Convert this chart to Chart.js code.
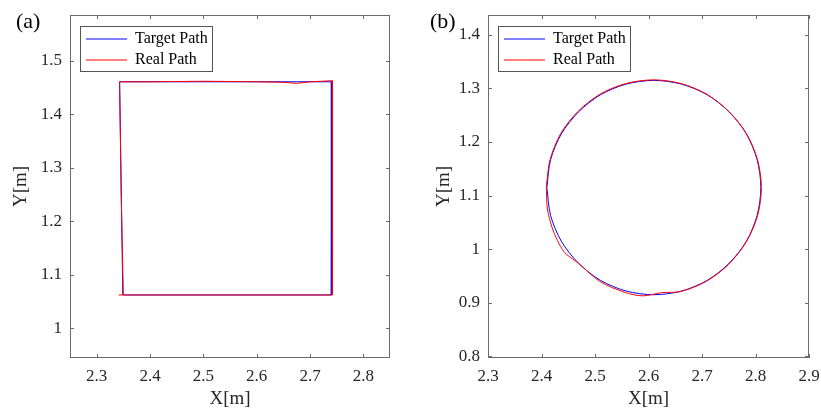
<!DOCTYPE html>
<html>
<head>
<meta charset="utf-8">
<script src="https://cdn.jsdelivr.net/npm/chart.js@4.4.0/dist/chart.umd.min.js"></script>
<style>
  html, body { margin: 0; padding: 0; background: #fff; }
  #wrap { position: relative; width: 821px; height: 409px; }
  .panel { position: absolute; top: 0; height: 409px; }
  #panelA { left: 0; width: 410px; }
  #panelB { left: 410px; width: 411px; }
</style>
</head>
<body>
<div id="wrap">
  <div class="panel" id="panelA"><canvas id="squareChart"></canvas></div>
  <div class="panel" id="panelB"><canvas id="circleChart"></canvas></div>
</div>
<script>
// (a) square path
var xTicksA = [2.3, 2.4, 2.5, 2.6, 2.7, 2.8];
var yTicksA = [1, 1.1, 1.2, 1.3, 1.4, 1.5];
var targetSquareX = [2.349, 2.343, 2.741, 2.740, 2.349];
var targetSquareY = [1.062, 1.461, 1.461, 1.062, 1.062];
var realSquareX = [2.350, 2.346, 2.343, 2.400, 2.500, 2.600, 2.650, 2.675, 2.700, 2.742, 2.742, 2.742, 2.600, 2.450, 2.341];
var realSquareY = [1.062, 1.250, 1.461, 1.461, 1.462, 1.461, 1.460, 1.458, 1.461, 1.463, 1.300, 1.062, 1.062, 1.062, 1.062];

// (b) circle path
var xTicksB = [2.3, 2.4, 2.5, 2.6, 2.7, 2.8, 2.9];
var yTicksB = [0.8, 0.9, 1, 1.1, 1.2, 1.3, 1.4];
var targetCircleX = [2.410, 2.417, 2.437, 2.469, 2.510, 2.558, 2.610, 2.662, 2.710, 2.751, 2.783, 2.803, 2.810, 2.803, 2.783, 2.751, 2.710, 2.662, 2.610, 2.558, 2.510, 2.469, 2.437, 2.417, 2.410];
var targetCircleY = [1.115, 1.063, 1.015, 0.974, 0.942, 0.922, 0.915, 0.922, 0.942, 0.974, 1.015, 1.063, 1.115, 1.167, 1.215, 1.256, 1.288, 1.308, 1.315, 1.308, 1.288, 1.256, 1.215, 1.167, 1.115];
var realCircleX = [2.409, 2.411, 2.420, 2.430, 2.443, 2.458, 2.470, 2.509, 2.557, 2.590, 2.625, 2.660, 2.708, 2.750, 2.783, 2.804, 2.811, 2.804, 2.783, 2.750, 2.709, 2.661, 2.610, 2.557, 2.509, 2.468, 2.436, 2.416, 2.409];
var realCircleY = [1.118, 1.075, 1.040, 1.016, 0.994, 0.982, 0.973, 0.940, 0.919, 0.913, 0.919, 0.921, 0.940, 0.972, 1.014, 1.063, 1.115, 1.166, 1.216, 1.257, 1.289, 1.309, 1.316, 1.309, 1.289, 1.257, 1.216, 1.167, 1.118];

var serif = '"Liberation Serif", "Times New Roman", serif';
var textColor = '#262626';
var boxColor = '#6b6b6b';

function toPoints(xs, ys) {
    return xs.map(function(x, i) { return {x: x, y: ys[i]}; });
}

// box round the axes, inward ticks, legend frame and the panel tag
var framePlugin = {
    id: 'frame',
    afterLayout: function(chart) {
        var lg = chart.legend, ca = chart.chartArea;
        var w = lg.right - lg.left, h = lg.bottom - lg.top;
        lg.left = ca.left + 11;
        lg.top = ca.top + 11;
        lg.right = lg.left + w;
        lg.bottom = lg.top + h;
    },
    afterDraw: function(chart, args, opts) {
        var ctx = chart.ctx, ca = chart.chartArea;
        var xs = chart.scales.x, ys = chart.scales.y;
        ctx.save();
        ctx.strokeStyle = boxColor;
        ctx.lineWidth = 1;
        ctx.strokeRect(ca.left + 0.5, ca.top + 0.5, ca.width - 1, ca.height - 1);
        ctx.beginPath();
        xs.ticks.forEach(function(t) {
            var px = Math.round(xs.getPixelForValue(t.value)) + 0.5;
            ctx.moveTo(px, ca.bottom); ctx.lineTo(px, ca.bottom - 4);
            ctx.moveTo(px, ca.top); ctx.lineTo(px, ca.top + 4);
        });
        ys.ticks.forEach(function(t) {
            var py = Math.round(ys.getPixelForValue(t.value)) + 0.5;
            ctx.moveTo(ca.left, py); ctx.lineTo(ca.left + 4, py);
            ctx.moveTo(ca.right, py); ctx.lineTo(ca.right - 4, py);
        });
        ctx.stroke();

        // legend frame
        var hb = chart.legend.legendHitBoxes;
        if (hb && hb.length) {
            var l = hb[0].left - 6, t = hb[0].top - 5;
            var r = 0, b = 0;
            hb.forEach(function(h) {
                r = Math.max(r, h.left + h.width);
                b = Math.max(b, h.top + h.height);
            });
            ctx.strokeStyle = '#555';
            ctx.strokeRect(Math.round(l) + 0.5, Math.round(t) + 0.5, Math.round(r + 4 - l), Math.round(b + 3 - t));
        }

        ctx.fillStyle = '#000';
        ctx.font = '22px ' + serif;
        ctx.textBaseline = 'alphabetic';
        ctx.fillText(opts.tag, opts.tagX, 28);
        ctx.restore();
    }
};

function makeChart(canvasId, p) {
    var ctx = document.getElementById(canvasId).getContext('2d');
    return new Chart(ctx, {
        type: 'scatter',
        data: {
            datasets: [{
                label: 'Target Path',
                data: toPoints(p.targetX, p.targetY),
                borderColor: '#0000ff',
                backgroundColor: '#0000ff',
                borderWidth: 1,
                showLine: true,
                pointRadius: 0,
                tension: p.tension,
                order: 1
            }, {
                label: 'Real Path',
                data: toPoints(p.realX, p.realY),
                borderColor: '#ff0000',
                backgroundColor: '#ff0000',
                borderWidth: 1,
                showLine: true,
                pointRadius: 0,
                tension: p.tension,
                order: 0
            }]
        },
        options: {
            responsive: true,
            maintainAspectRatio: false,
            animation: false,
            layout: { padding: { top: 15, right: p.padRight, bottom: 0, left: 0 } },
            scales: {
                x: {
                    type: 'linear',
                    min: p.xMin,
                    max: p.xMax,
                    afterBuildTicks: function(s) { s.ticks = p.xTicks.map(function(v) { return {value: v}; }); },
                    afterFit: function(s) { s.height = 51; s.paddingLeft = 0; s.paddingRight = 0; },
                    grid: { display: false, drawTicks: false },
                    border: { display: false },
                    ticks: {
                        padding: 8,
                        color: textColor,
                        autoSkip: false,
                        maxRotation: 0,
                        font: { family: serif, size: 17 },
                        callback: function(v) { return String(v); }
                    },
                    title: {
                        display: true,
                        text: 'X[m]',
                        color: textColor,
                        padding: { top: 0, bottom: 0 },
                        font: { family: serif, size: 19, lineHeight: 1 }
                    }
                },
                y: {
                    type: 'linear',
                    min: p.yMin,
                    max: p.yMax,
                    afterBuildTicks: function(s) { s.ticks = p.yTicks.map(function(v) { return {value: v}; }); },
                    afterFit: function(s) { s.width = p.yWidth; s.paddingTop = 0; s.paddingBottom = 0; },
                    grid: { display: false, drawTicks: false },
                    border: { display: false },
                    ticks: {
                        padding: 8,
                        color: textColor,
                        autoSkip: false,
                        font: { family: serif, size: 17 },
                        callback: function(v) { return String(v); }
                    },
                    title: {
                        display: true,
                        text: 'Y[m]',
                        color: textColor,
                        padding: { top: p.yTitlePad, bottom: 0 },
                        font: { family: serif, size: 19, lineHeight: 1 }
                    }
                }
            },
            plugins: {
                legend: {
                    position: 'chartArea',
                    align: 'start',
                    labels: {
                        usePointStyle: true,
                        pointStyle: 'line',
                        pointStyleWidth: 41,
                        padding: 5,
                        color: '#000',
                        font: { family: serif, size: 16 },
                        sort: function(a, b) { return a.datasetIndex - b.datasetIndex; }
                    }
                },
                tooltip: { enabled: false },
                frame: { tag: p.tag, tagX: p.tagX }
            }
        },
        plugins: [framePlugin]
    });
}

document.addEventListener("DOMContentLoaded", function() {
    makeChart('squareChart', {
        targetX: targetSquareX, targetY: targetSquareY,
        realX: realSquareX, realY: realSquareY,
        xTicks: xTicksA, yTicks: yTicksA,
        xMin: 2.25, xMax: 2.85, yMin: 0.944, yMax: 1.586,
        tension: 0, padRight: 20, yWidth: 70, yTitlePad: 12,
        tag: '(a)', tagX: 16
    });
    makeChart('circleChart', {
        targetX: targetCircleX, targetY: targetCircleY,
        realX: realCircleX, realY: realCircleY,
        xTicks: xTicksB, yTicks: yTicksB,
        xMin: 2.3, xMax: 2.9, yMin: 0.797, yMax: 1.437,
        tension: 0.3, padRight: 12, yWidth: 78, yTitlePad: 25,
        tag: '(b)', tagX: 20
    });
});
</script>
</body>
</html>
